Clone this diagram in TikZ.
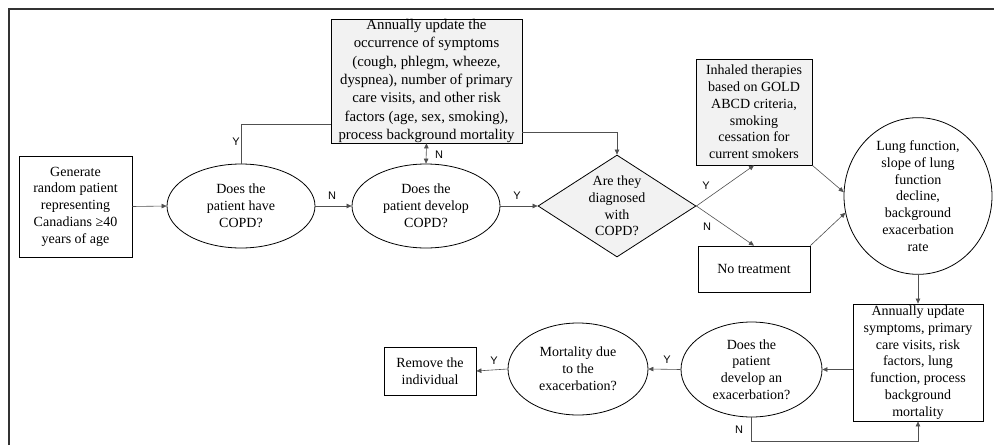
\documentclass[tikz,border=0pt]{standalone}
\usepackage{fontspec}
\setmainfont{Liberation Serif}
\newfontfamily\lblfont{Liberation Sans}
\usetikzlibrary{shapes.geometric,arrows.meta,calc}
\definecolor{boxgray}{HTML}{F2F2F2}
\definecolor{linegray}{HTML}{505050}
\tikzset{
  txt/.style={font=\fontsize{14}{16.8}\selectfont, align=center, inner sep=0pt},
  rbox/.style={txt, draw=black, line width=0.8pt, rectangle},
  gbox/.style={rbox, fill=boxgray},
  ebox/.style={txt, draw=black, line width=0.8pt, ellipse},
  conn/.style={draw=linegray, line width=0.6pt},
  arr/.style={conn, -{Triangle[length=5pt,width=4.5pt]}},
  darr/.style={conn, {Triangle[length=5pt,width=4.5pt]}-{Triangle[length=5pt,width=4.5pt]}},
  lbl/.style={font=\lblfont\fontsize{11}{13}\selectfont, inner sep=0pt},
}
\begin{document}
\begin{tikzpicture}[x=1pt,y=-1pt]
\useasboundingbox (0,0) rectangle (994,445);
\fill[white] (0,0) rectangle (994,445);
% frame
\draw[line width=1.6pt, color=black!80] (9,445) -- (9,9) -- (994,9);

% nodes
\node[rbox, minimum width=113pt, minimum height=101pt] (gen) at (75.5,206.5)
  {Generate\\random patient\\representing\\Canadians ≥40\\years of age};
\node[ebox, minimum width=148pt, minimum height=84pt] (e1) at (241,206)
  {Does the\\patient have\\COPD?};
\node[ebox, minimum width=148pt, minimum height=84pt] (e2) at (426,206)
  {Does the\\patient develop\\COPD?};
\node[gbox, minimum width=191pt, minimum height=124pt, font=\fontsize{14.8}{18.4}\selectfont] (gb) at (426.5,81)
  {Annually update the\\occurrence of symptoms\\(cough, phlegm, wheeze,\\dyspnea), number of primary\\care visits, and other risk\\factors (age, sex, smoking),\\process background mortality};
\node[diamond, draw=black, line width=0.8pt, fill=boxgray, minimum width=158pt, minimum height=102pt, inner sep=0pt] (dia) at (617,206) {};
\node[txt] (diat) at (dia.center) {Are they\\diagnosed\\with\\COPD?};
\node[gbox, minimum width=116pt, minimum height=106pt] (inh) at (754,112)
  {Inhaled therapies\\based on GOLD\\ABCD criteria,\\smoking\\cessation for\\current smokers};
\node[rbox, minimum width=112pt, minimum height=46pt] (notr) at (754,269)
  {No treatment};
\node[ebox, minimum width=148pt, minimum height=142pt] (lung) at (918,196)
  {Lung function,\\slope of lung\\function\\decline,\\background\\exacerbation\\rate};
\node[rbox, minimum width=130pt, minimum height=117pt] (ann) at (918,362.5)
  {Annually update\\symptoms, primary\\care visits, risk\\factors, lung\\function, process\\background\\mortality};
\node[ebox, minimum width=141pt, minimum height=95pt] (e3) at (751.5,369.5)
  {Does the\\patient\\develop an\\exacerbation?};
\node[ebox, minimum width=140pt, minimum height=92pt] (e4) at (578,369)
  {Mortality due\\to the\\exacerbation?};
\node[rbox, minimum width=92pt, minimum height=48pt] (rem) at (430,371)
  {Remove the\\individual};

% connectors
\draw[arr] (gen.east) -- (e1.west);
\draw[arr] (e1.east) -- (e2.west);
\coordinate (yturn) at ($(gb.south west)+(0,-19)$);
\draw[conn] (e1.north) |- (yturn);
\draw[darr] (gb.south) -- (e2.north);
\coordinate (gbout) at ($(gb.north east)+(0,114)$);
\draw[arr] (gbout) -| (dia.north);
\draw[arr] (e2.east) -- (dia.west);
\draw[arr] (dia.east) -- (inh.south);
\draw[arr] (dia.east) -- (notr.north);
\draw[arr] (inh.south east) -- (lung.177);
\draw[arr] (notr.north east) -- (lung.193);
\draw[arr] (lung.south) -- (ann.north);
\draw[arr] (ann.west |- e3.east) -- (e3.east);
\draw[arr] (e3.south) -- ++(0,24) -| (ann.south);
\draw[arr] (e3.west) -- (e4.east);
\draw[arr] (e4.west) -- (rem.east);

% labels
\node[lbl] (ly1) at (236,142) {Y};
\node[lbl] (ln1) at (332,196) {N};
\node[lbl] (ln2) at (439,155) {N};
\node[lbl] (ly2) at (517,196) {Y};
\node[lbl] (ly3) at (706,186) {Y};
\node[lbl] (ln3) at (707,227) {N};
\node[lbl] (ln4) at (739,430) {N};
\node[lbl] (ly4) at (667,360) {Y};
\node[lbl] (ly5) at (494,361) {Y};
\end{tikzpicture}
\end{document}
